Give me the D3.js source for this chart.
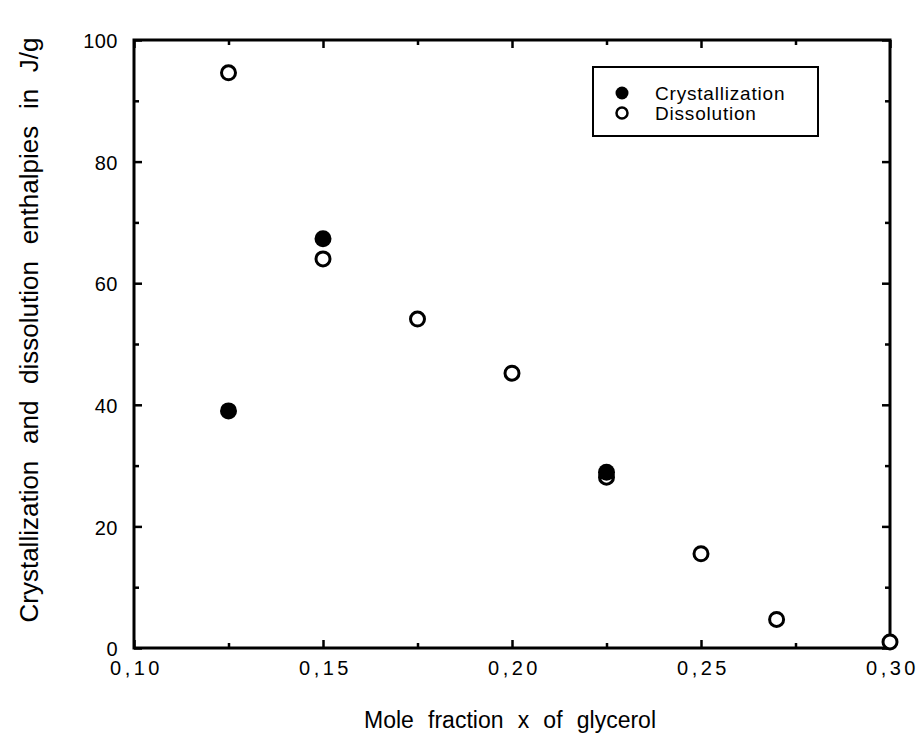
<!DOCTYPE html>
<html>
<head>
<meta charset="utf-8">
<script src="https://cdn.jsdelivr.net/npm/d3@7"></script>
<style>
  body { margin: 0; background: #fff; }
  svg { display: block; font-family: "Liberation Sans", Arial, Helvetica, sans-serif; }
  .tick-text { font-size: 20px; fill: #000; }
  .axis-label { font-size: 26px; fill: #000; }
  .legend-text { font-size: 19px; fill: #000; letter-spacing: 0.8px; }
</style>
</head>
<body>
<svg id="chart"></svg>
<script>
// ── DATA ──────────────────────────────────────────────
const crystX = [0.125, 0.15, 0.225];
const crystY = [39.0, 67.3, 28.9];
const dissX = [0.125, 0.15, 0.175, 0.2, 0.225, 0.25, 0.27, 0.3];
const dissY = [94.6, 64.0, 54.1, 45.2, 28.1, 15.5, 4.7, 1.0];
const xTicks = [0.10, 0.15, 0.20, 0.25, 0.30];
const xMinor = [0.125, 0.175, 0.225, 0.275];
const yTicks = [0, 20, 40, 60, 80, 100];
const yMinor = [10, 30, 50, 70, 90];
const legendLabels = ["Crystallization", "Dissolution"];

const width = 918, height = 751;
const margin = { top: 40, right: 28, bottom: 103, left: 134 };
const innerWidth = width - margin.left - margin.right;
const innerHeight = height - margin.top - margin.bottom;

const svg = d3.select("#chart").attr("width", width).attr("height", height);
const group = svg.append("g").attr("transform", `translate(${margin.left},${margin.top})`);

const xScale = d3.scaleLinear().domain([0.10, 0.30]).range([0, innerWidth]);
const yScale = d3.scaleLinear().domain([0, 100]).range([innerHeight, 0]);
const fmtX = (d) => d3.format(".2f")(d).replace(".", ",");

// frame
group.append("rect")
  .attr("x", 0).attr("y", 0)
  .attr("width", innerWidth).attr("height", innerHeight)
  .attr("fill", "none").attr("stroke", "#000").attr("stroke-width", 3);

// inward ticks on all four sides
function ticks(axisFn, scale, vals, size, transform) {
  const g = group.append("g")
    .attr("transform", transform)
    .call(axisFn(scale).tickValues(vals).tickSize(-size));
  g.select(".domain").remove();
  g.selectAll("text").remove();
  g.selectAll("line").attr("stroke", "#000").attr("stroke-width", 2.5);
}
ticks(d3.axisBottom, xScale, xTicks, 8, `translate(0,${innerHeight})`);
ticks(d3.axisBottom, xScale, xMinor, 5, `translate(0,${innerHeight})`);
ticks(d3.axisTop, xScale, xTicks, 8, "translate(0,0)");
ticks(d3.axisTop, xScale, xMinor, 5, "translate(0,0)");
ticks(d3.axisLeft, yScale, yTicks, 8, "translate(0,0)");
ticks(d3.axisLeft, yScale, yMinor, 5, "translate(0,0)");
ticks(d3.axisRight, yScale, yTicks, 8, `translate(${innerWidth},0)`);
ticks(d3.axisRight, yScale, yMinor, 5, `translate(${innerWidth},0)`);

// tick labels
const xAxis = group.append("g")
  .attr("transform", `translate(0,${innerHeight})`)
  .call(d3.axisBottom(xScale).tickValues(xTicks).tickSize(0).tickPadding(13).tickFormat(fmtX));
xAxis.select(".domain").remove();
xAxis.selectAll("text").attr("class", "tick-text").attr("letter-spacing", "3.5px")
  .attr("dx", "2px");

const yAxis = group.append("g")
  .call(d3.axisLeft(yScale).tickValues(yTicks).tickSize(0).tickPadding(16));
yAxis.select(".domain").remove();
yAxis.selectAll("text").attr("class", "tick-text").attr("letter-spacing", "0.5px")
  .attr("dy", "0.38em");
group.selectAll("g").attr("font-family", null).attr("font-size", null);

// axis labels, words spread to the reference's width
function spreadLabel(sel, target) {
  const words = sel.text().split(" ").length - 1;
  const len = sel.node().getComputedTextLength();
  sel.attr("word-spacing", `${Math.max(0, (target - len) / words)}px`);
}
const xLabel = group.append("text")
  .attr("class", "axis-label")
  .attr("x", 376)
  .attr("y", innerHeight + 80)
  .attr("text-anchor", "middle")
  .style("font-size", "23px")
  .text("Mole fraction x of glycerol");
spreadLabel(xLabel, 292);
const yLabel = group.append("text")
  .attr("class", "axis-label")
  .attr("transform", "rotate(-90)")
  .attr("x", -290)
  .attr("y", -96)
  .attr("text-anchor", "middle")
  .text("Crystallization and dissolution enthalpies in J/g");
spreadLabel(yLabel, 585);

// points
group.append("g").selectAll("circle")
  .data(dissX.map((x, i) => [x, dissY[i]]))
  .join("circle")
  .attr("cx", (d) => xScale(d[0]))
  .attr("cy", (d) => yScale(d[1]))
  .attr("r", 7)
  .attr("fill", "#fff")
  .attr("stroke", "#000")
  .attr("stroke-width", 3);
group.append("g").selectAll("circle")
  .data(crystX.map((x, i) => [x, crystY[i]]))
  .join("circle")
  .attr("cx", (d) => xScale(d[0]))
  .attr("cy", (d) => yScale(d[1]))
  .attr("r", 8.5)
  .attr("fill", "#000");

// legend
const legend = group.append("g").attr("transform", "translate(459,27)");
legend.append("rect")
  .attr("width", 225).attr("height", 69)
  .attr("fill", "#fff").attr("stroke", "#000").attr("stroke-width", 2);
legendLabels.forEach((label, i) => {
  const y = 26 + i * 20;
  if (i === 0) {
    legend.append("circle").attr("cx", 29).attr("cy", y).attr("r", 6.5).attr("fill", "#000");
  } else {
    legend.append("circle").attr("cx", 29).attr("cy", y).attr("r", 5.5)
      .attr("fill", "#fff").attr("stroke", "#000").attr("stroke-width", 2.5);
  }
  legend.append("text")
    .attr("class", "legend-text")
    .attr("x", 62)
    .attr("y", y)
    .attr("dy", "0.36em")
    .text(label);
});
</script>
</body>
</html>
